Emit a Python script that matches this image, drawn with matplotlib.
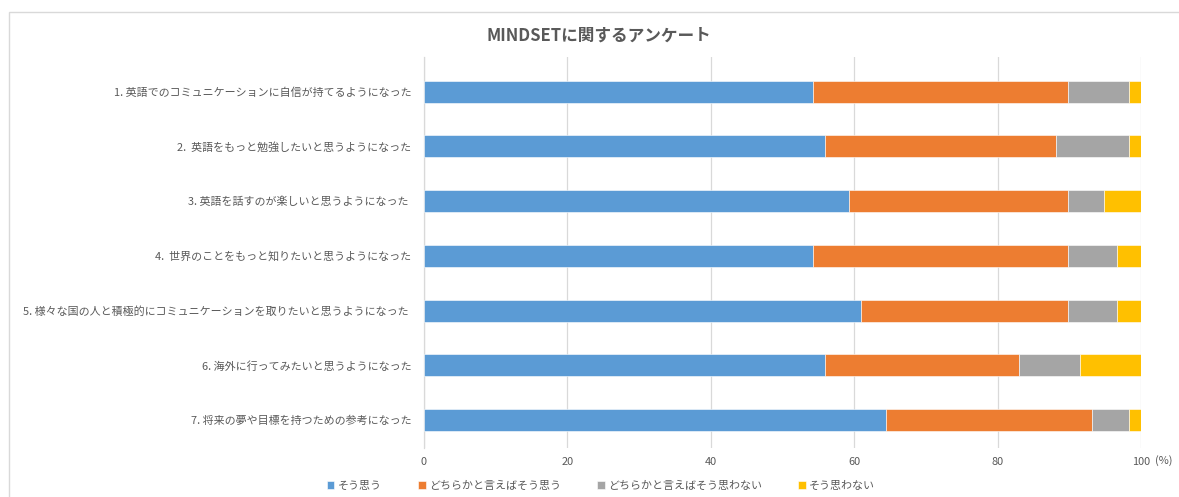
import numpy as np
import matplotlib
matplotlib.use('Agg')
import matplotlib.pyplot as plt
from matplotlib.patches import Rectangle

plt.rcParams['font.family'] = ['Noto Sans CJK JP', 'DejaVu Sans']

TITLE = 'MINDSETに関するアンケート'

QUESTIONS = [
    '1. 英語でのコミュニケーションに自信が持てるようになった',
    '2.  英語をもっと勉強したいと思うようになった',
    '3. 英語を話すのが楽しいと思うようになった ',
    '4.  世界のことをもっと知りたいと思うようになった',
    '5. 様々な国の人と積極的にコミュニケーションを取りたいと思うようになった ',
    '6. 海外に行ってみたいと思うようになった',
    '7. 将来の夢や目標を持つための参考になった',
]

SERIES = ['そう思う', 'どちらかと言えばそう思う', 'どちらかと言えばそう思わない', 'そう思わない']

# response shares (%), one list per answer category
agree          = [54.2, 55.9, 59.3, 54.2, 61.0, 55.9, 64.4]
somewhat_agree = [35.6, 32.2, 30.5, 35.6, 28.8, 27.1, 28.8]
somewhat_not   = [8.5, 10.2, 5.1, 6.8, 6.8, 8.5, 5.1]
disagree       = [1.7, 1.7, 5.1, 3.4, 3.4, 8.5, 1.7]

COLORS = ['#5B9BD5', '#ED7D31', '#A5A5A5', '#FFC000']
TEXT = '#595959'
GRID = '#D9D9D9'
FS = 7.9

fig = plt.figure(figsize=(11.79, 4.97), dpi=100)
ax = fig.add_axes([0.3596, 0.0994, 0.6081, 0.786])

# chart frame
fig.patches.append(Rectangle((9 / 1179, -0.1), 1.2, 0.9758 + 0.1,
                             transform=fig.transFigure, fill=False,
                             edgecolor=GRID, linewidth=1.0))

y = np.arange(len(QUESTIONS))
left = np.zeros(len(QUESTIONS))
for vals, name, col in zip([agree, somewhat_agree, somewhat_not, disagree], SERIES, COLORS):
    ax.barh(y, vals, left=left, height=0.4, color=col, label=name,
            edgecolor='white', linewidth=0.4, zorder=3)
    left += np.array(vals)

ax.set_xlim(0, 100)
ax.set_ylim(len(QUESTIONS) - 0.5, -0.633)
ax.set_xticks(range(0, 101, 20))
ax.set_yticks(y)
ax.set_yticklabels(QUESTIONS, fontsize=FS, color=TEXT)
ax.tick_params(axis='x', length=0, labelsize=FS, labelcolor=TEXT, pad=7)
ax.tick_params(axis='y', length=0, pad=9)
ax.grid(axis='x', color=GRID, linewidth=0.9, zorder=0)
for s in ['top', 'right', 'bottom']:
    ax.spines[s].set_visible(False)
ax.spines['left'].set_color(GRID)
ax.spines['left'].set_linewidth(0.9)

fig.text(1164 / 1179, 1 - 461 / 497, '(%)', fontsize=FS, color=TEXT,
         ha='center', va='center')

fig.text(599 / 1179, 1 - 36 / 497, TITLE, fontsize=12, fontweight='bold',
         color=TEXT, ha='center', va='center')

fig.legend(loc='center', bbox_to_anchor=(601 / 1179, 1 - 486 / 497), ncol=4,
           frameon=False, fontsize=FS, handlelength=0.7, handleheight=0.7,
           handletextpad=0.3, columnspacing=3.3, labelcolor=TEXT)

fig.savefig('out.png', dpi=100, facecolor='white')
